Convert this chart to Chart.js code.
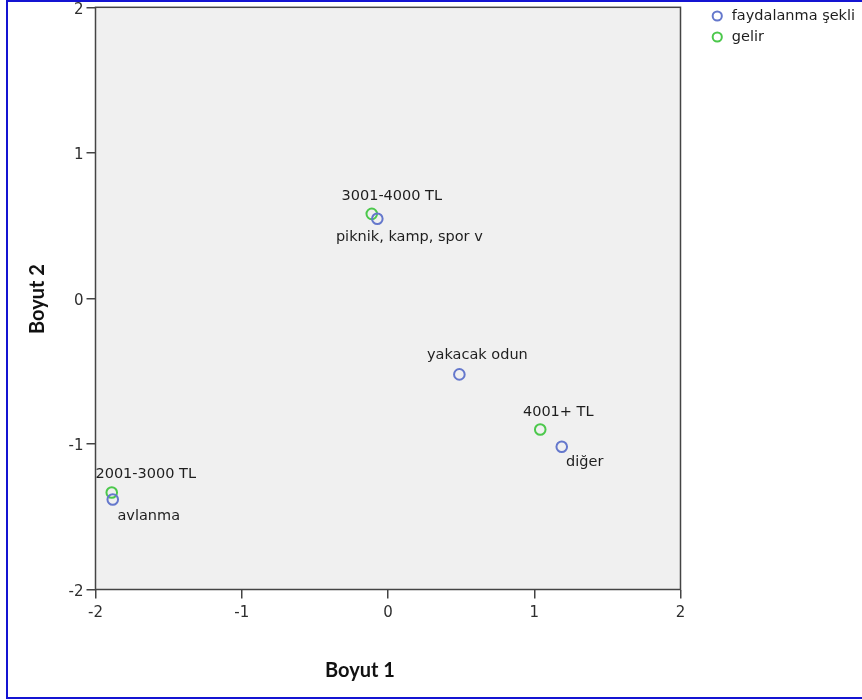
<!DOCTYPE html>
<html>
<head>
<meta charset="utf-8">
<script src="https://cdn.jsdelivr.net/npm/chart.js@4.4.1/dist/chart.umd.min.js"></script>
<style>
  html, body { margin: 0; padding: 0; background: #fff; overflow: hidden; }
  #wrap { position: relative; width: 862px; height: 700px; }
  #frame {
    position: absolute; left: 6px; top: 0; width: 900px; height: 699px;
    box-sizing: border-box; border: 2px solid #1414d2; pointer-events: none;
  }
</style>
</head>
<body>
<div id="wrap">
  <canvas id="chart"></canvas>
  <div id="frame"></div>
</div>
<script>
/* ---- Data ---- */
const seriesNames = ["faydalanma şekli", "gelir"];

const usageLabels = ["piknik, kamp, spor v", "yakacak odun", "avlanma", "diğer"];
const usageX = [-0.073, 0.488, -1.882, 1.188];
const usageY = [0.547, -0.522, -1.382, -1.019];

const incomeLabels = ["2001-3000 TL", "3001-4000 TL", "4001+ TL"];
const incomeX = [-1.889, -0.111, 1.041];
const incomeY = [-1.334, 0.581, -0.901];

const axisTicks = [-2, -1, 0, 1, 2];
const axisTitles = ["Boyut 1", "Boyut 2"];

/* ---- Look ---- */
const palette = {
  blue:  "#6578cc",
  green: "#4cc84c",
  panel: "#f0f0f0",
  axis:  "#444444",
  text:  "#1e1e1e"
};
const textFont = "DejaVu Sans";

const toPoints = (xs, ys) => xs.map((x, i) => ({ x: x, y: ys[i] }));

// where each point label sits relative to its marker (centre of the text)
const labelOffsets = [
  [[32, 18], [18, -19], [36, 17], [23, 16]],
  [[34, -18], [20, -18], [18, -17]]
];

const chartDecor = {
  id: "chartDecor",
  beforeDraw(chart) {
    const a = chart.chartArea;
    const ctx = chart.ctx;
    ctx.save();
    ctx.fillStyle = palette.panel;
    ctx.fillRect(a.left, a.top, a.right - a.left, a.bottom - a.top);
    ctx.restore();
  },
  beforeDatasetsDraw(chart) {
    const a = chart.chartArea;
    const ctx = chart.ctx;
    ctx.save();
    ctx.strokeStyle = palette.axis;
    ctx.lineWidth = 1.5;
    ctx.strokeRect(a.left, a.top, a.right - a.left, a.bottom - a.top);
    ctx.restore();
  },
  afterDatasetsDraw(chart) {
    const ctx = chart.ctx;
    const names = [usageLabels, incomeLabels];
    ctx.save();
    ctx.font = "14.5px '" + textFont + "'";
    ctx.fillStyle = palette.text;
    ctx.textAlign = "center";
    ctx.textBaseline = "middle";
    names.forEach((list, d) => {
      chart.getDatasetMeta(d).data.forEach((pt, i) => {
        const off = labelOffsets[d][i];
        ctx.fillText(list[i], pt.x + off[0], pt.y + off[1]);
      });
    });

    // axis titles, placed the way SPSS puts them
    ctx.font = "bold 20px Lato";
    ctx.fillStyle = "#111";
    ctx.fillText(axisTitles[0], 360, 671);
    ctx.translate(38, 299);
    ctx.rotate(-Math.PI / 2);
    ctx.fillText(axisTitles[1], 0, 0);
    ctx.restore();
  }
};

const tickFont = { family: textFont, size: 15 };
const setTicks = scale => { scale.ticks = axisTicks.map(v => ({ value: v })); };

new Chart(document.getElementById("chart"), {
  type: "scatter",
  data: {
    datasets: [
      {
        label: seriesNames[0],
        data: toPoints(usageX, usageY),
        borderColor: palette.blue,
        backgroundColor: "transparent",
        borderWidth: 2,
        pointRadius: 5.3,
        pointHoverRadius: 5.3
      },
      {
        label: seriesNames[1],
        data: toPoints(incomeX, incomeY),
        borderColor: palette.green,
        backgroundColor: "transparent",
        borderWidth: 2,
        pointRadius: 5.3,
        pointHoverRadius: 5.3
      }
    ]
  },
  options: {
    responsive: true,
    maintainAspectRatio: false,
    devicePixelRatio: 1,
    animation: false,
    layout: { padding: { top: 2.25, right: 0, bottom: 0, left: 0 } },
    plugins: {
      tooltip: { enabled: false },
      legend: {
        position: "right",
        align: "start",
        maxWidth: 158.5,
        labels: {
          usePointStyle: true,
          pointStyle: "circle",
          boxHeight: 6.5,
          padding: 6.5,
          color: palette.text,
          font: { family: textFont, size: 14.5 }
        }
      }
    },
    scales: {
      x: {
        type: "linear",
        position: "bottom",
        min: -2,
        max: 2,
        afterBuildTicks: setTicks,
        afterFit: s => { s.height = 110.5; s.paddingLeft = 0; s.paddingRight = 0; },
        border: { display: false },
        grid: { drawOnChartArea: false, tickLength: 9, tickColor: palette.axis, lineWidth: 1.5 },
        ticks: { font: tickFont, color: "#2e2e2e", padding: 6, maxRotation: 0 }
      },
      y: {
        type: "linear",
        position: "left",
        min: -2,
        max: 2,
        afterBuildTicks: setTicks,
        afterFit: s => { s.width = 95.5; s.paddingTop = 0; s.paddingBottom = 0; },
        border: { display: false },
        grid: { drawOnChartArea: false, tickLength: 9, tickColor: palette.axis, lineWidth: 1.5 },
        ticks: { font: tickFont, color: "#2e2e2e", padding: 3, labelOffset: 2.5 }
      },
      // empty spacer axes so the panel sits where SPSS draws it
      gapRight: {
        type: "linear",
        axis: "y",
        position: "right",
        afterFit: s => { s.width = 23; s.paddingTop = 0; s.paddingBottom = 0; },
        border: { display: false },
        grid: { display: false },
        ticks: { display: false }
      },
      gapTop: {
        type: "linear",
        axis: "x",
        position: "top",
        afterFit: s => { s.height = 3.25; s.paddingLeft = 0; s.paddingRight = 0; },
        border: { display: false },
        grid: { display: false },
        ticks: { display: false }
      }
    }
  },
  plugins: [chartDecor]
});
</script>
</body>
</html>
